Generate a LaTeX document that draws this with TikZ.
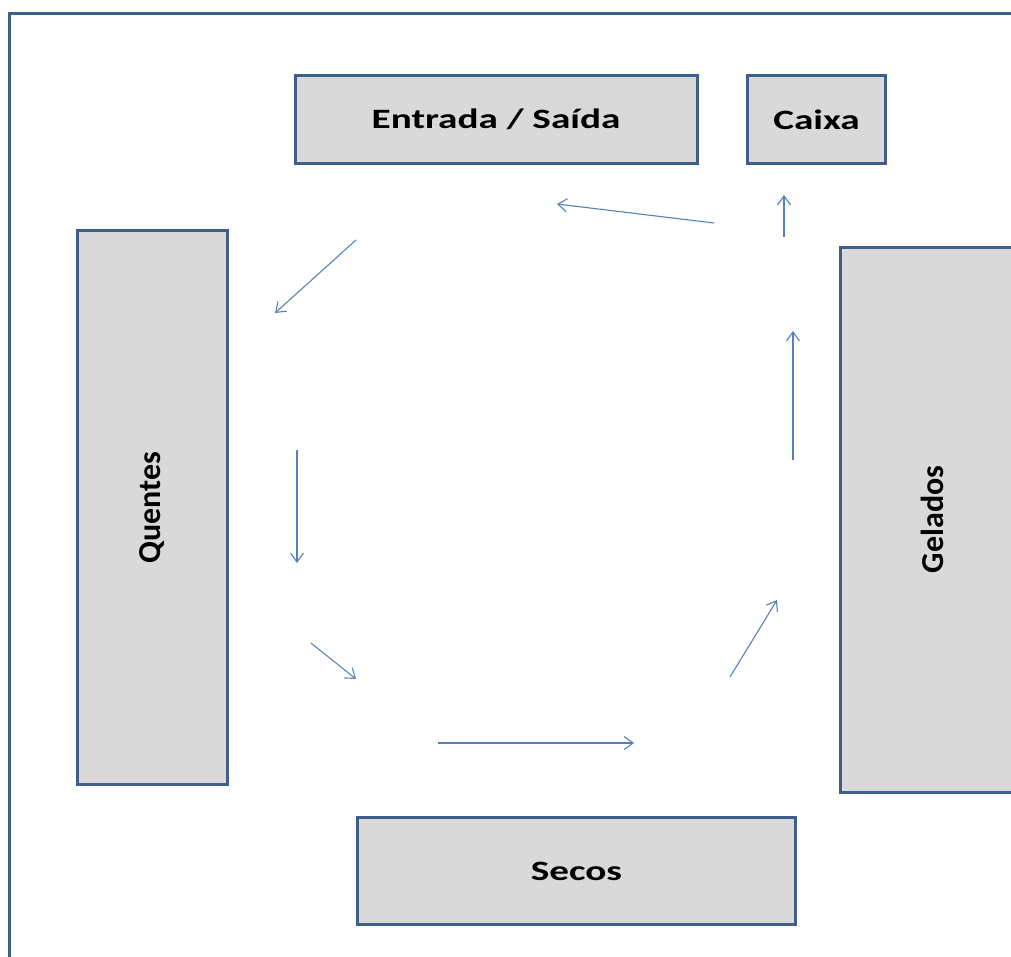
\documentclass[tikz,border=0pt]{standalone}
\usepackage{fontspec}
\usepackage{graphicx}
\setmainfont{Carlito}
\usetikzlibrary{arrows.meta}
\definecolor{frameblue}{HTML}{3F5F8A}
\definecolor{arrowblue}{HTML}{5682B8}
\definecolor{boxgray}{HTML}{D9D9D9}
\tikzset{
  zone/.style={draw=frameblue, line width=3pt, fill=boxgray, inner sep=0pt,
    font=\bfseries\fontsize{28}{30}\selectfont, text=black},
  vzone/.style={zone, font=\bfseries\fontsize{32}{34}\selectfont},
  flow/.style={draw=arrowblue, line width=1.1pt, -{Straight Barb[length=9pt,width=13pt]}}
}
\newcommand{\wide}[1]{\scalebox{1.4}[1]{#1}}
\begin{document}
\begin{tikzpicture}[x=1pt,y=-1pt]
\useasboundingbox (0,0) rectangle (1011,956);
\clip (0,0) rectangle (1011,956);
\fill[white] (0,0) rectangle (1011,956);
\draw[frameblue, line width=3pt] (9,13) rectangle (1040,980);

\node[zone, minimum width=402pt, minimum height=88pt] (entrada) at (496,119.5) {\wide{Entrada / Saída}};
\node[zone, minimum width=138pt, minimum height=88pt] (caixa) at (816.5,119.5) {\wide{Caixa}};
\node[vzone, minimum width=554pt, minimum height=150pt, rotate=90] (quentes) at (152.5,507.5) {Quentes};
\node[vzone, minimum width=545pt, minimum height=184pt, rotate=90] (gelados) at (932,519.5) {Gelados};
\node[zone, minimum width=438pt, minimum height=107pt] (secos) at (576.5,871) {\wide{Secos}};

\coordinate (a1s) at (714,223); \coordinate (a1e) at (557,204);
\coordinate (a2s) at (356,240); \coordinate (a2e) at (275,313);
\coordinate (a3s) at (297,450); \coordinate (a3e) at (297,563);
\coordinate (a4s) at (311,643); \coordinate (a4e) at (356,679);
\coordinate (a5s) at (438,743); \coordinate (a5e) at (634,743);
\coordinate (a6s) at (730,677); \coordinate (a6e) at (777,600);
\coordinate (a7s) at (793,460); \coordinate (a7e) at (793,331);
\coordinate (a8s) at (784,237); \coordinate (a8e) at (784,195);

\draw[flow] (a1s) -- (a1e);
\draw[flow] (a2s) -- (a2e);
\draw[flow] (a3s) -- (a3e);
\draw[flow] (a4s) -- (a4e);
\draw[flow] (a5s) -- (a5e);
\draw[flow] (a6s) -- (a6e);
\draw[flow] (a7s) -- (a7e);
\draw[flow] (a8s) -- (a8e);
\end{tikzpicture}
\end{document}
